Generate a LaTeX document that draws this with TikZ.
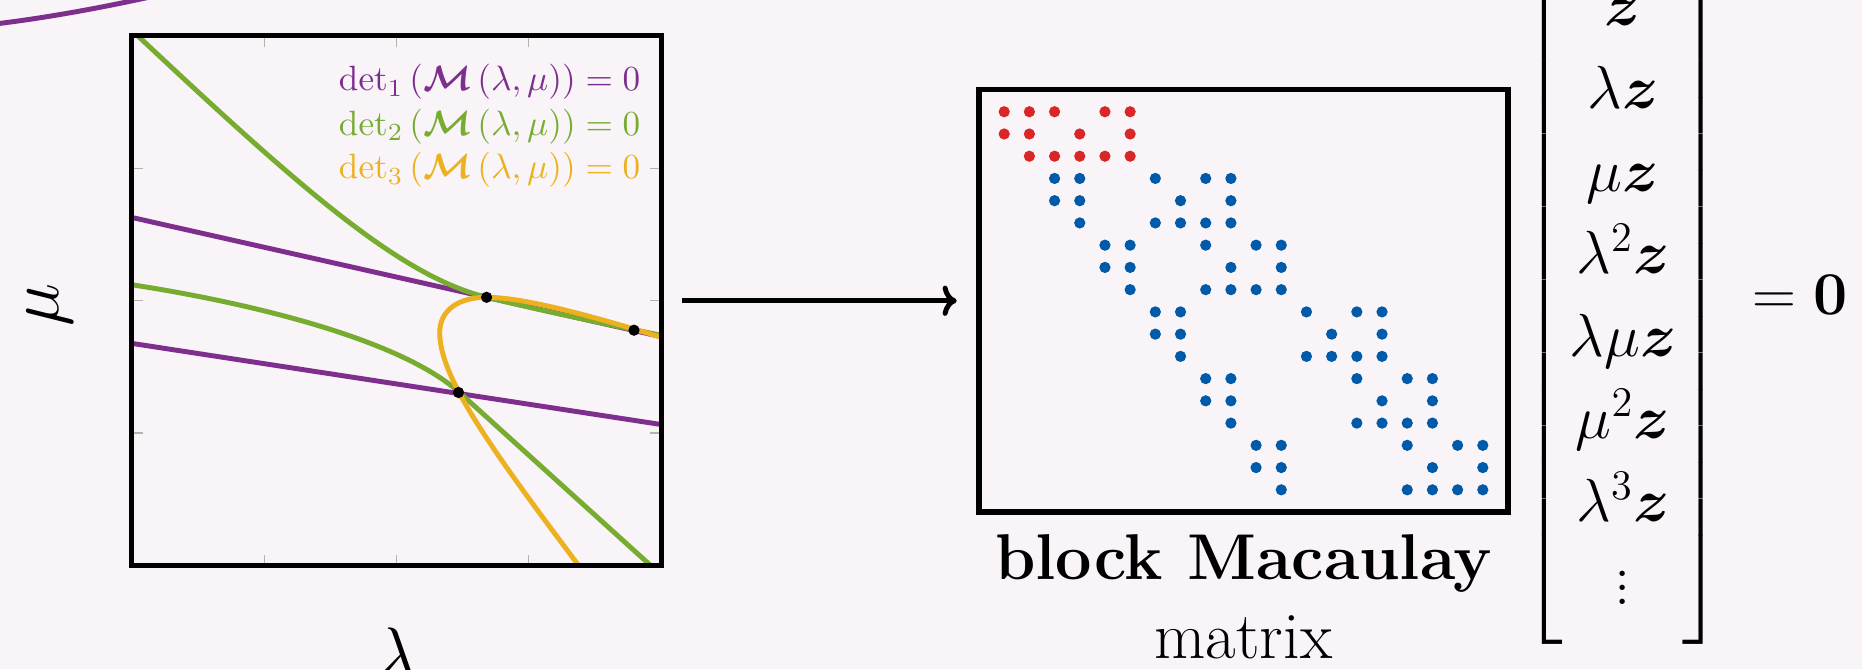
\documentclass[tikz,border=0pt]{standalone}
\usepackage{amsmath}
\usetikzlibrary{arrows.meta}

\definecolor{pagebg}{RGB}{248,244,248}
\definecolor{detpurple}{RGB}{126,47,142}
\definecolor{detgreen}{RGB}{119,172,48}
\definecolor{detorange}{RGB}{237,177,32}
\definecolor{nzred}{RGB}{217,38,38}
\definecolor{nzblue}{RGB}{0,90,170}

\begin{document}
\begin{tikzpicture}[x=0.01cm, y=0.01cm,
    >={Computer Modern Rightarrow[length=4pt, width=8.6pt]},
    curve/.style={line width=1.4pt},
    axtick/.style={gray!60, line width=0.4pt},
    legtext/.style={anchor=base east, inner sep=0pt, font=\fontsize{10.4}{12.5}\selectfont}]
  % crop of a wider figure: 1862 x 669 px, 1 unit = 1 px
  \fill[pagebg] (0,0) rectangle (1862,669);
  \useasboundingbox (0,0) rectangle (1862,669);
  \clip (0,0) rectangle (1862,669);

  % piece of the neighbouring ellipse (top left)
  \draw[detpurple, curve] (-5,645) .. controls (45,651) and (100,661) .. (150,672);

  % Axes ticks (inside, all four sides)
  \foreach \t in {264.25, 396.5, 528.75} {
    \draw[axtick] (\t,633) -- ++(0,-11);
    \draw[axtick] (\t,103.5) -- ++(0,11);
  }
  \foreach \t in {235.9, 368.25, 500.6} {
    \draw[axtick] (132,\t) -- ++(11,0);
    \draw[axtick] (661,\t) -- ++(-11,0);
  }

  % det curves, clipped to the axes
  \begin{scope}
    \clip (132,103.5) rectangle (661,633);
    \draw[detpurple, curve] (132,451.5) -- (661,332.4);
    \draw[detpurple, curve] (132,325.6) -- (661,244.5);
    \draw[detgreen, curve] (138,633) .. controls (300,481) and (400,393) .. (486.6,371.7)
      .. controls (545,357.7) and (600,346) .. (665,333);
    \draw[detgreen, curve] (125,385.3) .. controls (250,366.5) and (398.5,330) .. (458.5,277.4)
      -- (670,86);
    \draw[detorange, curve] (585,95) .. controls (495,215) and (439.7,290) .. (439.7,336.3)
      .. controls (439.7,360) and (460,371.7) .. (486.6,371.7)
      .. controls (520,371.7) and (580,357) .. (670,329);
  \end{scope}

  % axes box
  \node[draw, line width=1.5pt, minimum width=5.29cm, minimum height=5.295cm, inner sep=0pt]
    (plot) at (396.5,368.25) {};

  % common solutions
  \fill (486.6,371.7) circle (1.6pt);
  \fill (634,338.8) circle (1.6pt);
  \fill (458.5,276.5) circle (1.6pt);

  % legend
  \node[legtext, detpurple] (leg1) at (641,578)
    {$\det_1\left(\boldsymbol{\mathcal{M}}\left(\lambda,\mu\right)\right)=0$};
  \node[legtext, detgreen] (leg2) at (641,533.5)
    {$\det_2\left(\boldsymbol{\mathcal{M}}\left(\lambda,\mu\right)\right)=0$};
  \node[legtext, detorange] (leg3) at (641,490)
    {$\det_3\left(\boldsymbol{\mathcal{M}}\left(\lambda,\mu\right)\right)=0$};

  % axis labels
  \node[rotate=90, inner sep=0pt, font=\fontsize{19.5}{23}\selectfont] (ylab) at (50,364) {$\mu$};
  \node[anchor=north, inner sep=0pt, font=\fontsize{22}{26}\selectfont] (xlab) at (396.5,42) {$\lambda$};

  % block Macaulay matrix with its sparsity pattern
  \node[draw, line width=1.6pt, minimum width=5.29cm, minimum height=4.225cm, inner sep=0pt]
    (mac) at (1243.5,368.25) {};
  \foreach \r/\cols in {1/{1,2,3,5,6}, 2/{1,2,4,6}, 3/{2,3,4,5,6}} {
    \foreach \c in \cols
      \fill[nzred] ({979+25.19*\c},{579.5-22.24*\r}) circle (1.6pt);
  }
  \foreach \r/\cols in {4/{3,4,7,9,10}, 5/{3,4,8,10}, 6/{4,7,8,9,10},
                        7/{5,6,9,11,12}, 8/{5,6,10,12}, 9/{6,9,10,11,12},
                        10/{7,8,13,15,16}, 11/{7,8,14,16}, 12/{8,13,14,15,16},
                        13/{9,10,15,17,18}, 14/{9,10,16,18}, 15/{10,15,16,17,18},
                        16/{11,12,17,19,20}, 17/{11,12,18,20}, 18/{12,17,18,19,20}} {
    \foreach \c in \cols
      \fill[nzblue] ({979+25.19*\c},{579.5-22.24*\r}) circle (1.6pt);
  }
  \node[anchor=base, inner sep=0pt, font=\fontsize{18.4}{22}\selectfont\bfseries] (macA) at (1243.5,89.7) {block Macaulay};
  \node[anchor=base, inner sep=0pt, font=\fontsize{18.9}{22}\selectfont] (macB) at (1243.5,11) {matrix};

  % from the curves to the matrix
  \draw[->, line width=1.4pt, shorten <=5.2pt, shorten >=5.5pt] (plot) -- (mac);

  % monomial vector
  \node[inner sep=0pt, font=\fontsize{18.5}{23.5}\selectfont] (vec) at (1623,370.5)
    {\setlength{\arraycolsep}{1.8pt}\delimitershortfall=0pt
     $\left[\begin{array}{c}
      \boldsymbol{z}\\ \lambda\boldsymbol{z}\\ \mu\boldsymbol{z}\\ \lambda^2\boldsymbol{z}\\
      \lambda\mu\boldsymbol{z}\\ \mu^2\boldsymbol{z}\\ \lambda^3\boldsymbol{z}\\ \vdots
     \end{array}\right]$};
  \node[anchor=base west, inner sep=0pt, font=\fontsize{18.5}{23}\selectfont] (eqz) at (1752,354.2) {$=\mathbf{0}$};
\end{tikzpicture}
\end{document}
